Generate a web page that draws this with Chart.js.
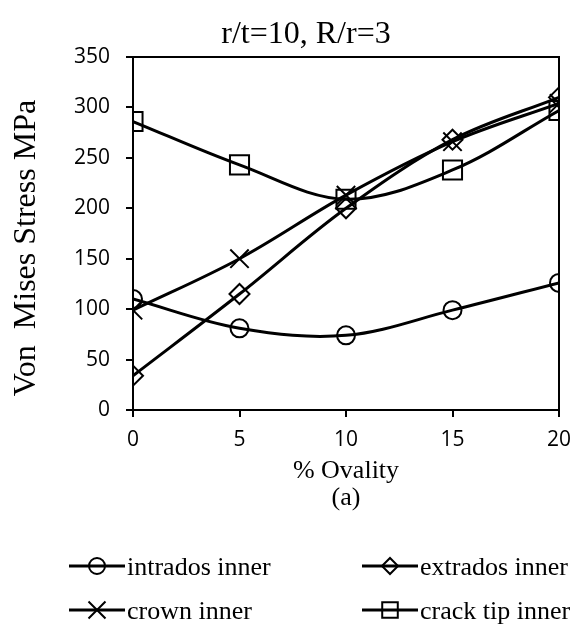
<!DOCTYPE html>
<html>
<head>
<meta charset="utf-8">
<script src="https://cdn.jsdelivr.net/npm/chart.js@4.4.0/dist/chart.umd.min.js"></script>
<style>
  body { margin: 0; background: #fff; }
</style>
</head>
<body>
<canvas id="myChart" width="576" height="633"></canvas>
<script>
// values
const ovality = [0, 5, 10, 15, 20];
const intradosInner = [110, 81, 74, 99, 126];
const extradosInner = [34, 115, 200, 268, 310];
const crownInner = [99, 150, 213, 266, 304];
const crackTipInner = [286, 243, 209, 238, 297];

const seriesNames = ['intrados inner', 'extrados inner', 'crown inner', 'crack tip inner'];
const chartTitle = 'r/t=10, R/r=3';
const yTitle = 'Von  Mises Stress MPa';
const xTitle = '% Ovality';
const subLabel = '(a)';

const serif = '"Liberation Serif", "Times New Roman", serif';
const sans = '"Open Sans", "Liberation Sans", sans-serif';

const markers = [
  { style: 'circle', radius: 9, legendRadius: 8 },
  { style: 'rectRot', radius: 10, legendRadius: 8 },
  { style: 'crossRot', radius: 13, legendRadius: 12 },
  { style: 'rect', radius: 13.5, legendRadius: 11 }
];

const toPoints = values => ovality.map((x, i) => ({ x, y: values[i] }));

const frameAndText = {
  id: 'frameAndText',
  beforeDatasetsDraw(chart) {
    const { ctx, chartArea } = chart;
    ctx.save();
    ctx.strokeStyle = '#000';
    ctx.lineWidth = 2;
    ctx.beginPath();
    ctx.moveTo(chartArea.left, chartArea.top);
    ctx.lineTo(chartArea.right, chartArea.top);
    ctx.lineTo(chartArea.right, chartArea.bottom);
    ctx.stroke();
    ctx.restore();
  },
  afterDraw(chart) {
    const { ctx, chartArea } = chart;
    const midX = (chartArea.left + chartArea.right) / 2;
    ctx.save();
    ctx.fillStyle = '#000';
    ctx.textAlign = 'center';
    ctx.textBaseline = 'alphabetic';

    ctx.font = '32px ' + serif;
    ctx.fillText(chartTitle, 306, 43);

    ctx.font = '26px ' + serif;
    ctx.fillText(xTitle, midX, 478);
    ctx.fillText(subLabel, midX, 505);

    ctx.save();
    ctx.translate(35, 248);
    ctx.rotate(-Math.PI / 2);
    ctx.font = '32px ' + serif;
    ctx.fillText(yTitle, 0, 0);
    ctx.restore();

    // legend, two columns
    const cols = [69, 362];
    const rows = [566, 610];
    ctx.textAlign = 'left';
    ctx.font = '26px ' + serif;
    chart.data.datasets.forEach((ds, i) => {
      const x = cols[i % 2];
      const y = rows[Math.floor(i / 2)];
      ctx.strokeStyle = '#000';
      ctx.lineWidth = 3;
      ctx.beginPath();
      ctx.moveTo(x, y);
      ctx.lineTo(x + 56, y);
      ctx.stroke();
      ctx.lineWidth = 2;
      ctx.fillStyle = 'rgba(0,0,0,0)';
      Chart.helpers.drawPoint(ctx, {
        pointStyle: markers[i].style,
        radius: markers[i].legendRadius,
        rotation: 0,
        borderWidth: 2
      }, x + 28, y);
      ctx.fillStyle = '#000';
      ctx.fillText(ds.label, x + 58, y + 9);
    });
    ctx.restore();
  }
};

const makeDataset = (label, values, i) => ({
  label,
  data: toPoints(values),
  borderColor: '#000',
  borderWidth: 3,
  tension: 0.35,
  fill: false,
  pointStyle: markers[i].style,
  pointRadius: markers[i].radius,
  pointHoverRadius: markers[i].radius,
  pointBorderWidth: 2,
  pointBorderColor: '#000',
  pointBackgroundColor: 'rgba(0,0,0,0)'
});

new Chart(document.getElementById('myChart').getContext('2d'), {
  type: 'line',
  data: {
    datasets: [
      makeDataset(seriesNames[0], intradosInner, 0),
      makeDataset(seriesNames[1], extradosInner, 1),
      makeDataset(seriesNames[2], crownInner, 2),
      makeDataset(seriesNames[3], crackTipInner, 3)
    ]
  },
  options: {
    responsive: false,
    animation: false,
    devicePixelRatio: 1,
    layout: { padding: { left: 0, right: 17, top: 57, bottom: 0 } },
    plugins: {
      legend: { display: false },
      title: { display: false },
      tooltip: { enabled: false }
    },
    scales: {
      x: {
        type: 'linear',
        min: 0,
        max: 20,
        afterFit: scale => {
          scale.height = 223;
          scale.paddingLeft = 0;
          scale.paddingRight = 0;
        },
        ticks: { stepSize: 5, color: '#000', font: { family: sans, size: 21 }, padding: 10, maxRotation: 0 },
        grid: { drawOnChartArea: false, drawTicks: true, tickLength: 7, color: '#000', lineWidth: 2 },
        border: { color: '#000', width: 2 }
      },
      y: {
        min: 0,
        max: 350,
        afterFit: scale => {
          scale.width = 133;
          scale.paddingTop = 0;
          scale.paddingBottom = 0;
        },
        ticks: { stepSize: 50, color: '#000', font: { family: sans, size: 21 }, padding: 16 },
        grid: { drawOnChartArea: false, drawTicks: true, tickLength: 7, color: '#000', lineWidth: 2 },
        border: { color: '#000', width: 2 }
      }
    }
  },
  plugins: [frameAndText]
});
</script>
</body>
</html>
